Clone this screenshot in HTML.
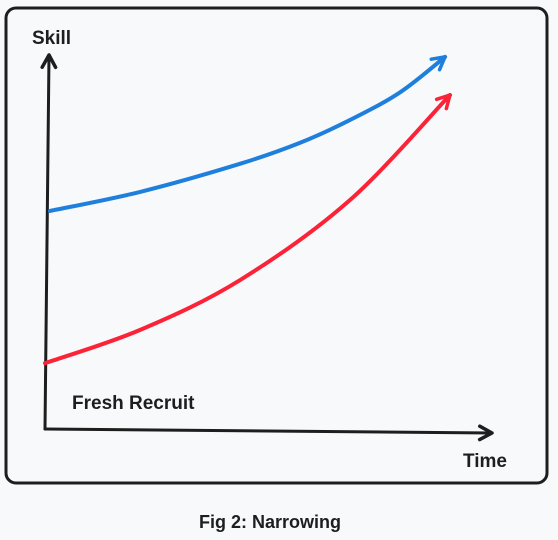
<!DOCTYPE html>
<html><head><meta charset="utf-8"><style>
html,body{margin:0;padding:0;background:#f8f9fb;width:558px;height:540px;overflow:hidden}
svg text{font-family:"Liberation Sans",sans-serif;fill:#1e1e1e}
</style></head><body>
<svg id="chart" width="558" height="540" viewBox="0 0 558 540">
<rect x="6" y="8" width="541" height="475" rx="10" fill="none" stroke="#1e1e1e" stroke-width="3"/>
<g id="axes"></g>
<g id="series"></g>
<text x="32" y="44" font-size="19" font-weight="bold">Skill</text>
<text x="463" y="467" font-size="19" font-weight="bold">Time</text>
<text x="72" y="409" font-size="19" font-weight="bold">Fresh Recruit</text>
<text x="270" y="528" font-size="18" font-weight="bold" text-anchor="middle">Fig 2: Narrowing</text>
</svg>
<script>
const timeBlue=[0.11,2.13,4.36,5.70,6.82,7.94,8.95];
const skillBlue=[5.83,6.34,7.09,7.65,8.26,9.0,9.95];
const timeRed=[0,2.13,4.36,6.82,9.06];
const skillRed=[1.76,2.65,3.98,6.12,8.93];
const NS="http://www.w3.org/2000/svg";
function xs(t){return 45+t*44.7;}
function ys(s){return 429-s*37.4;}
function mk(tag,attrs,parent){const e=document.createElementNS(NS,tag);for(const k in attrs)e.setAttribute(k,attrs[k]);parent.appendChild(e);return e;}
function arrowHead(p,prev,color,parent,name){
  const a=Math.atan2(p[1]-prev[1],p[0]-prev[0]),L=14,sp=0.5;
  const d=`M${p[0]-L*Math.cos(a-sp)},${p[1]-L*Math.sin(a-sp)} L${p[0]},${p[1]} L${p[0]-L*Math.cos(a+sp)},${p[1]-L*Math.sin(a+sp)}`;
  const e=mk('path',{d:d,fill:'none',stroke:color,'stroke-width':3.5,'stroke-linecap':'round','stroke-linejoin':'round'},parent);
  
  
}
function smooth(pts){
  let d=`M${pts[0][0]},${pts[0][1]}`;
  for(let i=0;i<pts.length-1;i++){
    const p0=pts[Math.max(0,i-1)],p1=pts[i],p2=pts[i+1],p3=pts[Math.min(pts.length-1,i+2)];
    d+=` C${p1[0]+(p2[0]-p0[0])/6},${p1[1]+(p2[1]-p0[1])/6} ${p2[0]-(p3[0]-p1[0])/6},${p2[1]-(p3[1]-p1[1])/6} ${p2[0]},${p2[1]}`;
  }
  return d;
}
const axes=document.getElementById('axes');
const ya=mk('path',{d:'M45,429 L49,55',stroke:'#1e1e1e','stroke-width':3,fill:'none','stroke-linecap':'round'},axes);


arrowHead([49,55],[45,429],'#1e1e1e',axes,'y-axis-arrow');
const xa=mk('path',{d:'M45,429 L492,433',stroke:'#1e1e1e','stroke-width':3,fill:'none','stroke-linecap':'round'},axes);


arrowHead([492,433],[45,429],'#1e1e1e',axes,'x-axis-arrow');
const g=document.getElementById('series');
function drawSeries(ts,ss,color,name){
  const pts=ts.map((t,i)=>[xs(t),ys(ss[i])]);
  const p=mk('path',{d:smooth(pts),fill:'none',stroke:color,'stroke-width':4,'stroke-linecap':'round'},g);
  
  
  const n=pts.length;
  arrowHead(pts[n-1],pts[n-2],color,g,name+'-arrow');
}
drawSeries(timeBlue,skillBlue,'#1f7fdc','blue-series');
drawSeries(timeRed,skillRed,'#fb2338','red-series');
</script>
</body></html>
